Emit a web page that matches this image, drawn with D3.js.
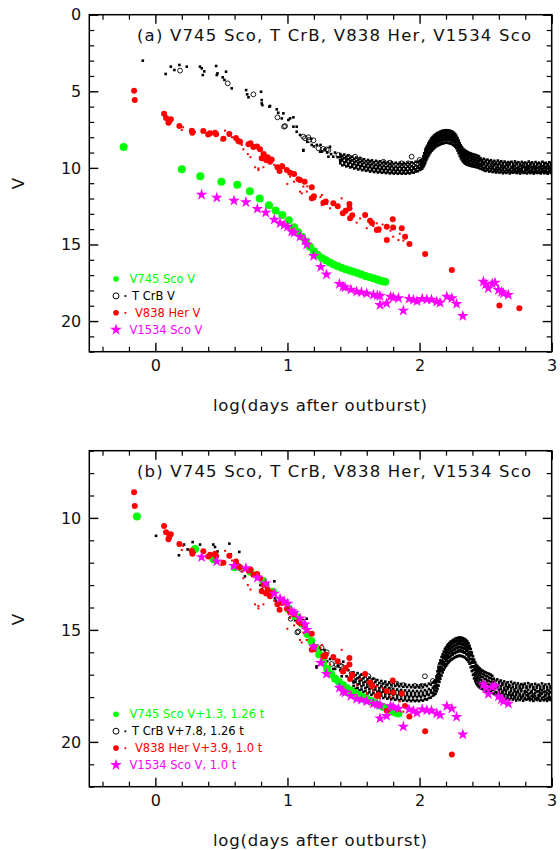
<!DOCTYPE html>
<html>
<head>
<meta charset="utf-8">
<script src="https://cdn.jsdelivr.net/npm/d3@7"></script>
<style>
  body { margin: 0; background: #fff; }
  text { font-family: "DejaVu Sans", sans-serif; }
</style>
</head>
<body>
<div id="chart"></div>
<script>
// light curves of four recurrent novae, [log(days after outburst), V]

const v745Sco = [
  [-0.24, 8.64], [0.20, 10.09], [0.34, 10.55], [0.50, 10.9], [0.62, 11.1], [0.715, 11.52],
  [0.79, 12.0], [0.86, 12.44], [0.91, 12.78], [0.96, 13.08], [1.01, 13.42], [1.05, 13.88],
  [1.08, 14.2], [1.11, 14.5], [1.14, 14.8], [1.17, 15.15], [1.20, 15.45], [1.23, 15.68],
  [1.26, 15.88], [1.29, 16.03], [1.32, 16.17], [1.35, 16.3], [1.38, 16.42], [1.41, 16.52],
  [1.44, 16.61], [1.47, 16.7], [1.50, 16.78], [1.53, 16.87], [1.56, 16.96], [1.59, 17.05],
  [1.62, 17.13], [1.65, 17.2], [1.68, 17.28], [1.70, 17.35], [1.72, 17.4], [1.74, 17.43]
];

const tcrbCircles = [
  [0.187, 3.65], [0.548, 4.48], [0.742, 5.2], [0.924, 6.7], [0.974, 7.31], [0.982, 7.27],
  [1.12, 7.96], [1.133, 8.07], [1.158, 8.0], [1.164, 8.18], [1.197, 8.2], [1.234, 8.72],
  [1.272, 8.76], [1.297, 8.79], [1.31, 8.83], [1.385, 9.16], [1.461, 9.27], [1.512, 9.27],
  [1.55, 9.44], [1.625, 9.66], [1.676, 9.7], [1.726, 9.6], [1.777, 9.66], [1.865, 9.7],
  [1.915, 9.7], [1.94, 9.27], [2.0, 9.48], [2.042, 9.27], [2.055, 8.8], [2.09, 8.5]
];

// sparse T CrB points on the rise and early decline
const tcrbDots = [
  [-0.095, 3.0], [0.078, 3.87], [0.117, 3.39], [0.144, 3.61], [0.182, 3.28], [0.238, 3.39],
  [0.338, 3.39], [0.351, 3.5], [0.359, 3.94], [0.37, 3.7], [0.46, 3.35], [0.465, 3.94],
  [0.47, 3.83], [0.51, 4.09], [0.523, 4.26], [0.535, 3.72], [0.578, 4.81], [0.687, 4.92],
  [0.695, 5.2], [0.705, 5.39], [0.80, 5.03], [0.805, 5.57], [0.81, 5.9], [0.805, 5.79],
  [0.863, 6.0], [0.868, 5.96], [0.919, 6.18], [0.93, 6.4], [0.957, 6.77], [0.969, 6.44],
  [1.007, 6.87], [1.02, 6.77], [1.045, 6.7], [1.045, 7.31], [1.07, 7.64], [1.07, 7.31],
  [1.095, 7.85], [1.12, 8.88], [1.12, 8.83], [1.184, 8.5], [1.222, 8.5], [1.247, 8.94],
  [1.26, 8.94], [1.31, 9.27], [1.322, 8.62], [1.347, 9.27], [1.398, 9.48],
  [1.15, 8.3], [1.18, 8.1], [1.2, 8.6], [1.25, 8.5], [1.28, 8.8], [1.3, 9.0], [1.33, 9.1],
  [1.36, 9.0], [1.38, 9.3]
];

// dense T CrB coverage, one row per time: [log t, V, V, ...]
const tcrbPlateau = [
  [1.400, 9.1, 9.28, 9.55, 9.7], [1.415, 9.22, 9.41, 9.52, 9.83], [1.430, 9.13, 9.36, 9.64, 9.79],
  [1.445, 9.3, 9.49, 9.6, 9.9], [1.460, 9.2, 9.44, 9.72, 9.86], [1.475, 9.36, 9.55, 9.66, 9.97],
  [1.490, 9.27, 9.51, 9.79, 9.92], [1.505, 9.42, 9.63, 9.74, 10.04], [1.520, 9.33, 9.57, 9.85, 9.98],
  [1.535, 9.48, 9.69, 9.8, 10.1], [1.550, 9.39, 9.62, 9.9, 10.03], [1.565, 9.53, 9.74, 9.86, 10.15],
  [1.580, 9.44, 9.67, 9.96, 10.09], [1.595, 9.57, 9.8, 9.91, 10.19], [1.610, 9.48, 9.72, 10.0, 10.13],
  [1.625, 9.61, 9.84, 9.95, 10.24], [1.640, 9.51, 9.76, 10.05, 10.17], [1.655, 9.64, 9.88, 9.99, 10.27],
  [1.670, 9.54, 9.8, 10.08, 10.21], [1.685, 9.67, 9.91, 10.02, 10.3], [1.700, 9.57, 9.83, 10.11, 10.24],
  [1.715, 9.7, 9.94, 10.05, 10.32], [1.730, 9.6, 9.86, 10.14, 10.26], [1.745, 9.72, 9.96, 10.07, 10.34],
  [1.760, 9.62, 9.88, 10.16, 10.28], [1.775, 9.74, 9.98, 10.09, 10.36], [1.790, 9.64, 9.9, 10.18, 10.3],
  [1.805, 9.75, 10.0, 10.11, 10.37], [1.820, 9.66, 9.91, 10.19, 10.31], [1.835, 9.76, 10.01, 10.12, 10.38],
  [1.850, 9.67, 9.92, 10.2, 10.32], [1.865, 9.77, 10.02, 10.13, 10.38], [1.880, 9.68, 9.93, 10.2, 10.33],
  [1.895, 9.77, 10.02, 10.13, 10.38], [1.910, 9.67, 9.92, 10.19, 10.32], [1.925, 9.75, 10.0, 10.11, 10.36],
  [1.940, 9.64, 9.89, 10.16, 10.29], [1.955, 9.71, 9.96, 10.07, 10.31], [1.970, 9.6, 9.84, 10.1, 10.24],
  [1.985, 9.64, 9.9, 10.0, 10.22], [2.000, 9.55, 9.78, 10.02, 10.14], [2.010, 9.5, 9.72, 9.9, 10.1]
];

const tcrbBump = [
  [2.020, 9.45, 9.58, 9.7, 9.79, 9.93, 10.05], [2.028, 9.27, 9.36, 9.52, 9.68, 9.75, 9.94],
  [2.035, 9.05, 9.21, 9.3, 9.47, 9.66, 9.83], [2.043, 8.88, 8.97, 9.16, 9.31, 9.42, 9.69],
  [2.050, 8.7, 8.86, 9.02, 9.1, 9.33, 9.52], [2.057, 8.56, 8.67, 8.84, 9.0, 9.21, 9.38],
  [2.066, 8.41, 8.58, 8.69, 8.9, 9.03, 9.24], [2.074, 8.29, 8.4, 8.6, 8.73, 8.95, 9.1],
  [2.083, 8.17, 8.33, 8.45, 8.64, 8.79, 8.98], [2.091, 8.05, 8.2, 8.38, 8.5, 8.72, 8.88],
  [2.100, 7.98, 8.1, 8.27, 8.46, 8.6, 8.8], [2.108, 7.9, 8.07, 8.19, 8.35, 8.57, 8.74],
  [2.117, 7.84, 7.96, 8.14, 8.3, 8.45, 8.66], [2.125, 7.79, 7.93, 8.06, 8.24, 8.42, 8.6],
  [2.134, 7.73, 7.88, 8.03, 8.15, 8.37, 8.55], [2.142, 7.71, 7.82, 7.98, 8.17, 8.29, 8.52],
  [2.151, 7.66, 7.8, 7.95, 8.09, 8.3, 8.48], [2.159, 7.64, 7.75, 7.92, 8.08, 8.22, 8.45],
  [2.168, 7.6, 7.74, 7.87, 8.05, 8.24, 8.42], [2.176, 7.58, 7.7, 7.88, 8.0, 8.17, 8.4],
  [2.185, 7.57, 7.72, 7.83, 8.01, 8.19, 8.38], [2.193, 7.55, 7.66, 7.84, 7.97, 8.12, 8.36],
  [2.202, 7.54, 7.69, 7.8, 7.98, 8.16, 8.35], [2.210, 7.55, 7.65, 7.83, 7.95, 8.11, 8.36],
  [2.219, 7.56, 7.7, 7.81, 8.0, 8.18, 8.37], [2.227, 7.57, 7.68, 7.86, 7.99, 8.14, 8.39],
  [2.236, 7.6, 7.73, 7.85, 8.04, 8.22, 8.41], [2.244, 7.62, 7.74, 7.9, 8.03, 8.19, 8.44],
  [2.253, 7.67, 7.8, 7.93, 8.1, 8.28, 8.49], [2.261, 7.72, 7.83, 8.0, 8.14, 8.3, 8.54],
  [2.270, 7.8, 7.94, 8.06, 8.24, 8.41, 8.61], [2.278, 7.91, 8.02, 8.2, 8.33, 8.5, 8.71],
  [2.287, 8.05, 8.19, 8.33, 8.5, 8.68, 8.87], [2.295, 8.21, 8.32, 8.51, 8.65, 8.83, 9.04],
  [2.304, 8.38, 8.53, 8.66, 8.84, 9.0, 9.21], [2.312, 8.53, 8.64, 8.83, 8.97, 9.17, 9.37],
  [2.321, 8.65, 8.8, 8.93, 9.12, 9.28, 9.49], [2.329, 8.76, 8.88, 9.05, 9.19, 9.4, 9.59],
  [2.338, 8.82, 8.97, 9.1, 9.3, 9.46, 9.67], [2.346, 8.88, 9.0, 9.19, 9.33, 9.55, 9.72],
  [2.355, 8.92, 9.07, 9.21, 9.42, 9.58, 9.77], [2.365, 8.98, 9.1, 9.29, 9.44, 9.64, 9.81],
  [2.376, 9.02, 9.17, 9.31, 9.52, 9.67, 9.84], [2.388, 9.06, 9.19, 9.38, 9.53, 9.72, 9.87],
  [2.400, 9.1, 9.26, 9.4, 9.59, 9.74, 9.9], [2.412, 9.13, 9.27, 9.46, 9.6, 9.79, 9.92],
  [2.425, 9.16, 9.33, 9.47, 9.66, 9.8, 9.95], [2.438, 9.2, 9.35, 9.53, 9.68, 9.85, 9.97],
  [2.450, 9.25, 9.41, 9.55, 9.73, 9.87, 10.01]
];

const tcrbTail = [
  [2.462, 9.38, 9.52, 9.74, 9.86, 10.06], [2.475, 9.48, 9.63, 9.8, 9.97, 10.1],
  [2.488, 9.41, 9.69, 9.77, 10.02, 10.16], [2.501, 9.53, 9.6, 9.88, 9.99, 10.2],
  [2.514, 9.46, 9.72, 9.83, 10.07, 10.14], [2.527, 9.57, 9.66, 9.94, 10.01, 10.24],
  [2.540, 9.5, 9.79, 9.87, 10.1, 10.19], [2.553, 9.61, 9.7, 9.92, 10.04, 10.27],
  [2.566, 9.54, 9.76, 9.84, 10.12, 10.22], [2.579, 9.66, 9.73, 9.99, 10.08, 10.3],
  [2.592, 9.52, 9.82, 9.93, 10.14, 10.23], [2.605, 9.63, 9.75, 10.04, 10.09, 10.31],
  [2.618, 9.57, 9.86, 9.95, 10.18, 10.25], [2.631, 9.68, 9.78, 10.0, 10.11, 10.35],
  [2.644, 9.59, 9.91, 9.97, 10.22, 10.27], [2.657, 9.7, 9.81, 10.06, 10.13, 10.33],
  [2.670, 9.62, 9.84, 9.94, 10.19, 10.26], [2.683, 9.67, 9.77, 10.09, 10.15, 10.36],
  [2.696, 9.6, 9.93, 10.01, 10.24, 10.29], [2.709, 9.72, 9.8, 9.96, 10.12, 10.31],
  [2.722, 9.58, 9.88, 10.07, 10.17, 10.27], [2.735, 9.69, 9.76, 10.02, 10.23, 10.34],
  [2.748, 9.63, 9.92, 9.98, 10.14, 10.29], [2.761, 9.74, 9.83, 10.08, 10.2, 10.37],
  [2.774, 9.61, 9.89, 10.03, 10.16, 10.28], [2.787, 9.7, 9.79, 9.95, 10.25, 10.33],
  [2.800, 9.65, 9.94, 10.1, 10.18, 10.3], [2.813, 9.73, 9.85, 10.0, 10.13, 10.36],
  [2.826, 9.59, 9.9, 10.05, 10.24, 10.28], [2.839, 9.71, 9.81, 9.97, 10.19, 10.34],
  [2.852, 9.64, 9.95, 10.09, 10.15, 10.3], [2.865, 9.75, 9.86, 10.02, 10.26, 10.37],
  [2.878, 9.62, 9.91, 10.06, 10.17, 10.29], [2.891, 9.72, 9.8, 9.99, 10.22, 10.33],
  [2.904, 9.66, 9.96, 10.11, 10.16, 10.31], [2.917, 9.74, 9.87, 10.03, 10.25, 10.36],
  [2.930, 9.6, 9.89, 10.08, 10.14, 10.28], [2.943, 9.7, 9.82, 9.98, 10.21, 10.35],
  [2.956, 9.67, 9.95, 10.1, 10.18, 10.3], [2.969, 9.76, 9.85, 10.04, 10.27, 10.38],
  [2.982, 9.63, 9.92, 10.07, 10.15, 10.29], [2.995, 9.72, 9.81, 10.0, 10.23, 10.34]
];

const v838HerBig = [
  [-0.161, 4.96], [-0.156, 5.57], [0.066, 6.46], [0.081, 6.74], [0.099, 7.05], [0.117, 6.83],
  [0.105, 6.95], [0.182, 7.26], [0.276, 7.57], [0.28, 7.7], [0.363, 7.59], [0.40, 7.82],
  [0.414, 7.74], [0.452, 7.7], [0.46, 7.81], [0.515, 8.1], [0.56, 7.79], [0.61, 8.05],
  [0.628, 8.25], [0.641, 8.3], [0.705, 8.45], [0.72, 8.4], [0.742, 8.64], [0.77, 8.6],
  [0.792, 8.79], [0.805, 9.37], [0.82, 9.1], [0.838, 9.48], [0.85, 9.3], [0.868, 9.6],
  [0.88, 9.45], [0.924, 9.96], [0.94, 10.2], [0.96, 9.9], [0.995, 10.14], [1.02, 10.31],
  [1.05, 10.4], [1.083, 10.74], [1.095, 10.79], [1.13, 10.9], [1.184, 11.27], [1.184, 11.99],
  [1.2, 11.85], [1.272, 12.27], [1.29, 12.2], [1.347, 12.31], [1.38, 12.5], [1.419, 12.96],
  [1.44, 12.8], [1.469, 12.36], [1.469, 12.64], [1.474, 13.29], [1.49, 13.1], [1.588, 13.07],
  [1.625, 13.45], [1.64, 13.6], [1.676, 14.05], [1.69, 14.0], [1.752, 13.84], [1.752, 14.71],
  [1.797, 13.36], [1.80, 13.9], [1.865, 13.94], [1.89, 14.5], [1.923, 14.97], [2.042, 15.62],
  [2.244, 16.66], [2.604, 18.99], [2.755, 19.17]
];

const v838HerDots = [
  [0.2, 7.53], [0.21, 7.35], [0.3, 7.65], [0.528, 7.57], [0.5, 8.2], [0.58, 8.0], [0.654, 8.5],
  [0.666, 8.79], [0.7, 9.1], [0.72, 9.3], [0.755, 9.96], [0.78, 10.14], [0.78, 10.03],
  [0.805, 9.05], [0.818, 9.96], [0.86, 9.66], [0.893, 9.48], [0.9, 9.8], [0.957, 9.92],
  [0.957, 9.75], [0.999, 11.05], [1.02, 10.57], [1.05, 10.9], [1.095, 11.55], [1.108, 11.66],
  [1.12, 11.22], [1.146, 11.55], [1.15, 11.2], [1.209, 12.05], [1.25, 11.9], [1.26, 11.77],
  [1.26, 12.42], [1.297, 12.36], [1.322, 12.64], [1.41, 11.99], [1.45, 12.9], [1.524, 13.58],
  [1.55, 13.3], [1.6, 13.94], [1.65, 13.8], [1.676, 13.62], [1.70, 14.16], [1.72, 13.7],
  [1.78, 14.1], [1.80, 14.49], [1.84, 14.71], [1.85, 14.3], [1.877, 14.75]
];

const v1534Sco = [
  [0.35, 11.75], [0.465, 11.94], [0.595, 12.14], [0.685, 12.24], [0.772, 12.67], [0.835, 12.92],
  [0.90, 13.38], [0.944, 13.61], [0.975, 13.73], [1.0, 13.83], [1.032, 14.16], [1.05, 14.23],
  [1.095, 14.49], [1.133, 14.75], [1.146, 15.0], [1.198, 15.75], [1.252, 16.47], [1.295, 16.96],
  [1.393, 17.58], [1.42, 17.75], [1.436, 17.8], [1.48, 17.95], [1.524, 18.08], [1.56, 18.12],
  [1.60, 18.19], [1.65, 18.29], [1.68, 18.32], [1.70, 18.36], [1.70, 18.95], [1.75, 18.84],
  [1.78, 18.4], [1.80, 18.45], [1.84, 18.51], [1.877, 19.32], [1.92, 18.55], [1.953, 18.62],
  [1.98, 18.7], [2.02, 18.55], [2.055, 18.58], [2.09, 18.6], [2.13, 18.73], [2.155, 18.8],
  [2.206, 18.4], [2.244, 18.51], [2.28, 18.88], [2.327, 19.67], [2.483, 17.43], [2.50, 17.6],
  [2.52, 17.86], [2.55, 17.55], [2.571, 17.49], [2.597, 17.97], [2.62, 18.1], [2.635, 18.19],
  [2.672, 18.29]
];

// panel (b): V offsets and time stretch factors, in legend order
const shiftV = [1.3, 7.8, 3.9, 0];
const timeFactor = [1.26, 1.26, 1.0, 1.0];

const legendA = ["V745 Sco V", "T CrB V", "V838 Her V", "V1534 Sco V"];
const legendB = ["V745 Sco V+1.3, 1.26 t", "T CrB V+7.8, 1.26 t", "V838 Her V+3.9, 1.0 t", "V1534 Sco V, 1.0 t"];
const titleA = "(a) V745 Sco, T CrB, V838 Her, V1534 Sco";
const titleB = "(b) V745 Sco, T CrB, V838 Her, V1534 Sco";

const xTicks = [0, 1, 2, 3];
const yTicksA = [0, 5, 10, 15, 20];
const yTicksB = [10, 15, 20];

const GREEN = "#00ff00", RED = "#ff0000", MAGENTA = "#ff00ff", BLACK = "#000";

const width = 560, height = 850;
const left = 89.3, right = 551.7;

// flatten the per-time rows into [log t, V] pairs
const unrow = rows => rows.flatMap(r => r.slice(1).map(v => [r[0], v]));
const tcrbAllDots = tcrbDots.concat(unrow(tcrbPlateau), unrow(tcrbBump), unrow(tcrbTail));

const svg = d3.select("#chart").append("svg")
  .attr("width", width)
  .attr("height", height);

const x = d3.scaleLinear().domain([-0.5, 3]).range([left, right]);

function makePanel(o) {
  const y = d3.scaleLinear().domain(o.vDomain).range([o.top, o.bottom]);
  const g = svg.append("g");

  g.append("clipPath").attr("id", "clip" + o.id)
    .append("rect")
    .attr("x", left).attr("y", o.top)
    .attr("width", right - left).attr("height", o.bottom - o.top);

  const plot = g.append("g").attr("clip-path", `url(#clip${o.id})`);

  const shift = (data, i) => data.map(d => o.shifted
    ? [d[0] + Math.log10(timeFactor[i]), d[1] + shiftV[i]]
    : d);

  // T CrB: small square dots plus open circles
  plot.selectAll(".tdot").data(shift(tcrbAllDots, 1)).enter()
    .append("rect")
    .attr("x", d => x(d[0]) - 1.3).attr("y", d => y(d[1]) - 1.3)
    .attr("width", 2.6).attr("height", 2.6).attr("fill", BLACK);
  plot.selectAll(".tcirc").data(shift(tcrbCircles, 1)).enter()
    .append("circle")
    .attr("cx", d => x(d[0])).attr("cy", d => y(d[1]))
    .attr("r", 2.4).attr("fill", "none").attr("stroke", BLACK).attr("stroke-width", 0.9);

  // V745 Sco
  plot.selectAll(".gdot").data(shift(v745Sco, 0)).enter()
    .append("circle")
    .attr("cx", d => x(d[0])).attr("cy", d => y(d[1]))
    .attr("r", 4).attr("fill", GREEN);

  // V838 Her
  plot.selectAll(".rdot").data(shift(v838HerDots, 2)).enter()
    .append("rect")
    .attr("x", d => x(d[0]) - 1).attr("y", d => y(d[1]) - 1)
    .attr("width", 2).attr("height", 2).attr("fill", RED);
  plot.selectAll(".rbig").data(shift(v838HerBig, 2)).enter()
    .append("circle")
    .attr("cx", d => x(d[0])).attr("cy", d => y(d[1]))
    .attr("r", 3).attr("fill", RED);

  // V1534 Sco
  const star = d3.symbol(d3.symbolStar, 42);
  plot.selectAll(".star").data(shift(v1534Sco, 3)).enter()
    .append("path")
    .attr("d", star)
    .attr("transform", d => `translate(${x(d[0])},${y(d[1])})`)
    .attr("fill", MAGENTA);

  // axes: inward ticks on all four sides
  const xMinor = d3.range(-0.4, 3.0, 0.2).filter(v => Math.abs(v - Math.round(v)) > 0.01);
  const yMinor = d3.range(Math.ceil(o.vDomain[0]), o.vDomain[1] + 0.01, 1).filter(v => v % 5 !== 0);

  const axes = [
    [d3.axisBottom(x), `translate(0,${o.bottom})`, xTicks, xMinor, true],
    [d3.axisTop(x), `translate(0,${o.top})`, xTicks, xMinor, false],
    [d3.axisLeft(y), `translate(${left},0)`, o.yTicks, yMinor, true],
    [d3.axisRight(y), `translate(${right},0)`, o.yTicks, yMinor, false]
  ];
  axes.forEach(([ax, tr, major, minor, labels]) => {
    g.append("g").attr("transform", tr)
      .call(ax.tickValues(major).tickSizeInner(-9).tickSizeOuter(0).tickPadding(8)
        .tickFormat(labels ? d3.format("d") : ""))
      .call(s => s.select(".domain").remove())
      .call(s => s.selectAll("line").attr("stroke-width", 1.4))
      .call(s => s.selectAll("text").attr("font-size", 16).attr("font-family", "DejaVu Sans").attr("fill", "#111"));
    g.append("g").attr("transform", tr)
      .call(ax.tickValues(minor).tickSizeInner(-5).tickSizeOuter(0).tickFormat(""))
      .call(s => s.select(".domain").remove())
      .call(s => s.selectAll("line").attr("stroke-width", 1.2));
  });

  g.append("rect")
    .attr("x", left).attr("y", o.top)
    .attr("width", right - left).attr("height", o.bottom - o.top)
    .attr("fill", "none").attr("stroke", BLACK).attr("stroke-width", 1.5);

  g.append("text")
    .attr("x", 137).attr("y", o.top + 26)
    .attr("font-size", 16.5).attr("fill", "#111")
    .attr("textLength", 394).attr("lengthAdjust", "spacing")
    .text(o.title);

  g.append("text")
    .attr("x", 213).attr("y", o.bottom + 59)
    .attr("font-size", 16.5).attr("fill", "#111")
    .attr("textLength", 214).attr("lengthAdjust", "spacing")
    .text("log(days after outburst)");

  g.append("text")
    .attr("transform", `translate(24,${o.top + 169}) rotate(-90)`)
    .attr("text-anchor", "middle").attr("font-size", 16.5).attr("fill", "#111")
    .text("V");

  // legend
  const colors = [GREEN, BLACK, RED, MAGENTA];
  const textX = [129.5, 132, 135, 129.5];
  const mx = 116;
  o.legend.forEach((label, i) => {
    const ly = o.legendY + i * 16.9;
    if (i === 0 || i === 2) {
      g.append("circle").attr("cx", mx).attr("cy", ly).attr("r", 2.8).attr("fill", colors[i]);
    }
    if (i === 1) {
      g.append("circle").attr("cx", mx).attr("cy", ly).attr("r", 3)
        .attr("fill", "none").attr("stroke", BLACK).attr("stroke-width", 1);
    }
    if (i === 1 || i === 2) {
      g.append("rect").attr("x", 124.5).attr("y", ly - 0.8).attr("width", 1.8).attr("height", 1.8).attr("fill", colors[i]);
    }
    if (i === 3) {
      g.append("path").attr("d", d3.symbol(d3.symbolStar, 42))
        .attr("transform", `translate(${mx},${ly})`).attr("fill", MAGENTA);
    }
    g.append("text")
      .attr("x", textX[i]).attr("y", ly + 4)
      .attr("font-size", 11.5).attr("fill", colors[i])
      .text(label);
  });
}

makePanel({ id: "a", top: 14.7, bottom: 351.7, vDomain: [0, 22], yTicks: yTicksA,
  title: titleA, legend: legendA, legendY: 279, shifted: false });
makePanel({ id: "b", top: 450.7, bottom: 786.7, vDomain: [7, 22], yTicks: yTicksB,
  title: titleB, legend: legendB, legendY: 714.3, shifted: true });
</script>
</body>
</html>
